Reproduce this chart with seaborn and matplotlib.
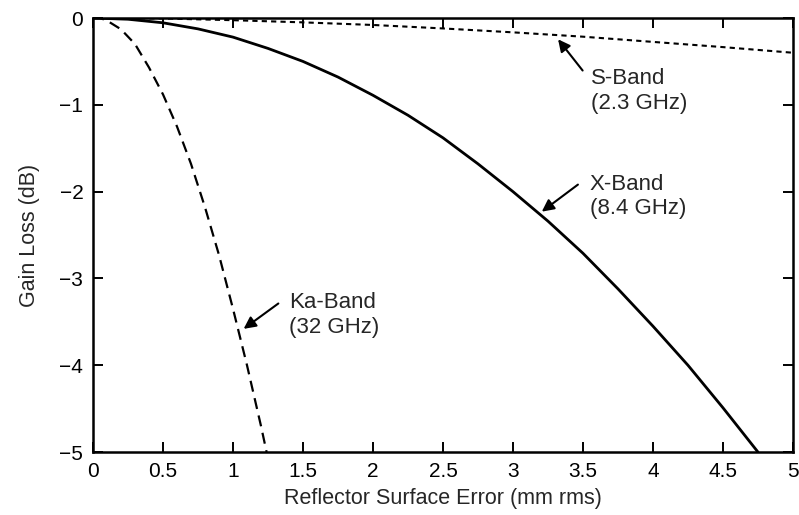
import matplotlib
matplotlib.use("Agg")
import matplotlib.pyplot as plt
import seaborn as sns
import pandas as pd

# Data
s_x = [0, 0.5, 1.0, 1.5, 2.0, 2.5, 3.0, 3.5, 4.0, 4.5, 5.0]
s_y = [0, -0.005, -0.025, -0.05, -0.08, -0.12, -0.165, -0.215, -0.275, -0.335, -0.40]

x_x = [0, 0.25, 0.5, 0.75, 1.0, 1.25, 1.5, 1.75, 2.0, 2.25, 2.5, 2.75, 3.0,
       3.25, 3.5, 3.75, 4.0, 4.25, 4.5, 4.75]
x_y = [0, -0.014, -0.055, -0.125, -0.22, -0.35, -0.5, -0.68, -0.89, -1.12,
       -1.38, -1.68, -2.0, -2.34, -2.71, -3.12, -3.55, -4.0, -4.49, -5.0]

ka_x = [0, 0.05, 0.1, 0.2, 0.3, 0.4, 0.5, 0.6, 0.7, 0.8, 0.9, 1.0, 1.1, 1.2, 1.24]
ka_y = [0, 0, -0.03, -0.13, -0.3, -0.57, -0.88, -1.25, -1.68, -2.18, -2.73,
        -3.35, -4.0, -4.7, -5.0]

x_ticks = [0, 0.5, 1, 1.5, 2, 2.5, 3, 3.5, 4, 4.5, 5]
x_ticklabels = ["0", "0.5", "1", "1.5", "2", "2.5", "3", "3.5", "4", "4.5", "5"]
y_ticks = [0, -1, -2, -3, -4, -5]
y_ticklabels = ["0", "\u22121", "\u22122", "\u22123", "\u22124", "\u22125"]

sns.set_theme(style="ticks")
plt.rcParams["font.family"] = ["Liberation Sans", "DejaVu Sans"]

fig = plt.figure(figsize=(7.99, 5.15), dpi=100)
ax = fig.add_axes([0.1164, 0.1223, 0.8760, 0.8427])

sns.lineplot(x=s_x, y=s_y, ax=ax, color="black", linewidth=1.5,
             linestyle=(0, (2.5, 2.0)), sort=False, estimator=None)
sns.lineplot(x=x_x, y=x_y, ax=ax, color="black", linewidth=2.0,
             linestyle="-", sort=False, estimator=None)
sns.lineplot(x=ka_x, y=ka_y, ax=ax, color="black", linewidth=1.6,
             linestyle=(0, (5, 3)), sort=False, estimator=None)

ax.set_xlim(0, 5)
ax.set_ylim(-5, 0)
ax.set_xticks(x_ticks)
ax.set_xticklabels(x_ticklabels)
ax.set_yticks(y_ticks)
ax.set_yticklabels(y_ticklabels)
ax.tick_params(direction="in", length=7, width=1.4, top=True, right=True,
               labelsize=15, colors="black", pad=7)
for sp in ax.spines.values():
    sp.set_linewidth(1.8)
    sp.set_color("black")

ax.set_xlabel("Reflector Surface Error (mm rms)", fontsize=15.5, labelpad=5)
ax.set_ylabel("Gain Loss (dB)", fontsize=15.5, labelpad=14)

arrowprops = dict(arrowstyle="-|>", color="black", lw=1.5, mutation_scale=18)
fs = 16
ax.annotate("", xy=(3.31, -0.22), xytext=(3.51, -0.63), arrowprops=arrowprops)
ax.text(3.56, -0.58, "S-Band\n(2.3 GHz)", fontsize=fs, va="top", ha="left",
        linespacing=1.2)

ax.annotate("", xy=(3.19, -2.25), xytext=(3.48, -1.90), arrowprops=arrowprops)
ax.text(3.55, -1.80, "X-Band\n(8.4 GHz)", fontsize=fs, va="top", ha="left",
        linespacing=1.2)

ax.annotate("", xy=(1.06, -3.6), xytext=(1.34, -3.27), arrowprops=arrowprops)
ax.text(1.40, -3.16, "Ka-Band\n(32 GHz)", fontsize=fs, va="top", ha="left",
        linespacing=1.2)

fig.savefig("out.png", dpi=100)
